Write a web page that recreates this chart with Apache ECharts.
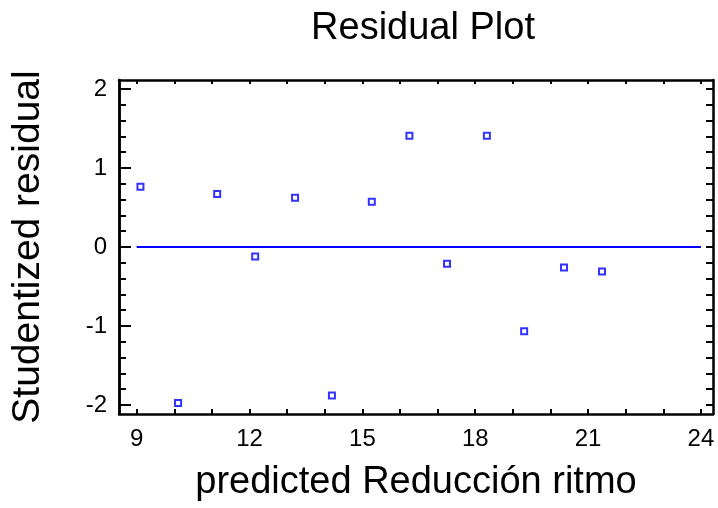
<!DOCTYPE html>
<html>
<head>
<meta charset="utf-8">
<script src="https://cdn.jsdelivr.net/npm/echarts@6/dist/echarts.min.js"></script>
<style>
  html, body { margin: 0; padding: 0; background: #fff; }
  #chart { width: 718px; height: 508px; }
</style>
</head>
<body>
<div id="chart"></div>
<script>
// Predicted values and studentized residuals
const predicted = [9.10, 10.10, 11.14, 12.15, 13.21, 14.19, 15.25, 16.25, 17.25, 18.31, 19.30, 20.36, 21.37];
const residuals = [0.763, -1.975, 0.671, -0.119, 0.624, -1.88, 0.573, 1.409, -0.211, 1.409, -1.068, -0.258, -0.309];

// Axis ticks and labels
const xLabelValues = [9, 12, 15, 18, 21, 24];
const xTickValues = [9, 10, 11, 12, 13, 14, 15, 16, 17, 18, 19, 20, 21, 22, 23, 24];
const yLabelValues = [-2, -1, 0, 1, 2];
const yMinorValues = [-2, -1.8, -1.6, -1.4, -1.2, -1, -0.8, -0.6, -0.4, -0.2, 0, 0.2, 0.4, 0.6, 0.8, 1, 1.2, 1.4, 1.6, 1.8, 2];
// Zero reference line spans the fitted range
const zeroLine = [[9, 0], [24, 0]];

const FONT = 'Liberation Sans, Arial, sans-serif';
const X_MIN = 8.53, X_MAX = 24.32;
const Y_MIN = -2.114, Y_MAX = 2.114;
const frameLine = { show: true, onZero: false, lineStyle: { color: '#000', width: 2.5 } };

const chart = echarts.init(document.getElementById('chart'), null, { renderer: 'canvas' });

const xBase = {
  type: 'value', min: X_MIN, max: X_MAX,
  splitLine: { show: false }, axisLine: frameLine
};
const yBase = {
  type: 'value', min: Y_MIN, max: Y_MAX,
  splitLine: { show: false }, axisLine: frameLine
};

chart.setOption({
  animation: false,
  backgroundColor: '#fff',
  title: {
    text: 'Residual Plot',
    left: 418, top: 5, textAlign: 'center',
    textStyle: { fontFamily: FONT, fontSize: 38, fontWeight: 'normal', color: '#000' }
  },
  grid: { left: 119, right: 5, top: 80, bottom: 94, containLabel: false, outerBoundsMode: 'none' },
  xAxis: [
    Object.assign({}, xBase, {
      position: 'bottom',
      name: 'predicted Reducción ritmo',
      nameLocation: 'middle', nameGap: 50,
      nameTextStyle: { fontFamily: FONT, fontSize: 38, color: '#000' },
      axisTick: { show: true, inside: true, length: 5, customValues: xTickValues, lineStyle: { color: '#000', width: 2 } },
      axisLabel: { show: true, customValues: xLabelValues, margin: 13, fontFamily: FONT, fontSize: 24, color: '#000' }
    }),
    Object.assign({}, xBase, {
      position: 'top',
      axisTick: { show: true, inside: true, length: 4, customValues: xTickValues, lineStyle: { color: '#000', width: 2 } },
      axisLabel: { show: false }
    })
  ],
  yAxis: [
    Object.assign({}, yBase, {
      position: 'left',
      name: 'Studentized residual',
      nameLocation: 'middle', nameGap: 71, nameRotate: 90,
      nameTextStyle: { fontFamily: FONT, fontSize: 39, color: '#000' },
      axisTick: { show: true, inside: true, length: 12, customValues: yLabelValues, lineStyle: { color: '#000', width: 2 } },
      axisLabel: { show: true, customValues: yLabelValues, margin: 12, fontFamily: FONT, fontSize: 24, color: '#000' }
    }),
    Object.assign({}, yBase, {
      position: 'left',
      axisTick: { show: true, inside: true, length: 7, customValues: yMinorValues, lineStyle: { color: '#000', width: 2 } },
      axisLabel: { show: false }
    }),
    Object.assign({}, yBase, {
      position: 'right',
      axisTick: { show: true, inside: true, length: 7, customValues: yMinorValues, lineStyle: { color: '#000', width: 2 } },
      axisLabel: { show: false }
    })
  ],
  series: [
    {
      type: 'line',
      xAxisIndex: 0, yAxisIndex: 0,
      data: zeroLine,
      showSymbol: false,
      lineStyle: { color: '#0000ff', width: 2 },
      silent: true, z: 2
    },
    {
      type: 'scatter',
      xAxisIndex: 0, yAxisIndex: 0,
      data: predicted.map((x, i) => [x, residuals[i]]),
      symbol: 'rect', symbolSize: 6,
      itemStyle: { color: '#fff', borderColor: '#0000ff', borderWidth: 2 },
      z: 3
    }
  ]
});
</script>
</body>
</html>
